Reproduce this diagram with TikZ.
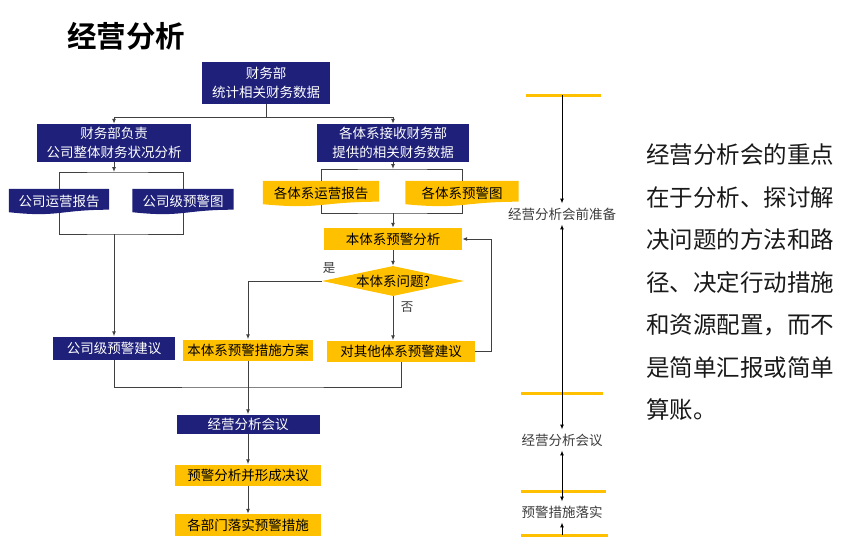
\documentclass[tikz,border=0pt]{standalone}
\usepackage{fontspec}
\setmainfont{Noto Sans CJK SC}[BoldFont={Noto Sans CJK SC Bold}]
\usetikzlibrary{arrows.meta,shapes.geometric,calc,backgrounds}
\definecolor{navy}{HTML}{1E2079}
\definecolor{gold}{HTML}{FFC000}
\definecolor{linegray}{HTML}{404040}
\definecolor{textgray}{HTML}{3C3C3C}

\begin{document}
\begin{tikzpicture}[x=1pt,y=-1pt,
        line/.style={draw=linegray,line width=1pt},
        arr/.style={line,-{Latex[length=5pt,width=4pt]}},
        dblarr/.style={line,{Latex[length=5pt,width=4pt]}-{Latex[length=5pt,width=4pt]}},
        box/.style={inner sep=0pt,font=\fontsize{13.5}{19.5}\selectfont,align=center},
        navybox/.style={box,fill=navy,text=white},
        goldbox/.style={box,fill=gold,text=black},
        doc/.style={box,minimum height=24pt},
        stage/.style={font=\fontsize{13.5}{16}\selectfont,text=textgray,inner xsep=1pt,inner ysep=4pt},
        bar/.style={draw=gold,line width=3pt},
        notetext/.style={font=\fontsize{23.5}{28}\selectfont,text=black!90,anchor=west,inner sep=0pt}]
        \useasboundingbox (0,0) rectangle (854,552);
        % Title
        \node[font=\fontsize{29.5}{31}\selectfont\bfseries,anchor=west,inner sep=0pt] (title) at (67,36) {经营分析};
        % Finance department
        \node[navybox,minimum width=128pt,minimum height=42pt] (fin) at (266,83) {财务部\\统计相关财务数据};
        \node[navybox,minimum width=154pt,minimum height=38pt] (lft) at (114,143) {财务部负责\\公司整体财务状况分析};
        \node[navybox,minimum width=152pt,minimum height=38pt] (rgt) at (393,143) {各体系接收财务部\\提供的相关财务数据};
        % Reports
        \node[doc,text=white,minimum width=100pt] (rep1) at (59,201) {公司运营报告};
        \node[doc,text=white,minimum width=101pt] (rep2) at (183,201) {公司级预警图};
        \node[doc,minimum width=116pt] (rep3) at (321,193) {各体系运营报告};
        \node[doc,minimum width=113pt] (rep4) at (462,193) {各体系预警图};
        \begin{scope}[on background layer]
            \foreach \n/\c in {rep1/navy,rep2/navy,rep3/gold,rep4/gold}
                \fill[\c] (\n.north west) -- (\n.north east) -- ($(\n.south east)+(0,-3.5)$)
                    .. controls ($(\n.south)+(0,-3.5)$) and ($(\n.south)+(0,4.5)$) .. ($(\n.south west)+(0,-1)$) -- cycle;
        \end{scope}
        % System analysis
        \node[goldbox,minimum width=138pt,minimum height=22pt] (ana) at (393,239) {本体系预警分析};
        \node[diamond,fill=gold,aspect=4.7,inner sep=0pt,minimum width=142pt,minimum height=30pt,
            font=\fontsize{13.5}{16}\selectfont] (dia) at (393,281) {本体系问题?};
        \node[font=\fontsize{12.5}{14}\selectfont,text=textgray] (yes) at (329,268) {是};
        \node[font=\fontsize{12.5}{14}\selectfont,text=textgray] (no) at (407,307) {否};
        % Suggestions
        \node[navybox,minimum width=122pt,minimum height=23pt] (kwj) at (114,348) {公司级预警建议};
        \node[goldbox,minimum width=130pt,minimum height=21pt] (plan) at (248,350) {本体系预警措施方案};
        \node[goldbox,minimum width=148pt,minimum height=21pt] (oth) at (401,351) {对其他体系预警建议};
        % Meeting
        \node[navybox,minimum width=143pt,minimum height=19pt] (meet) at (248,424) {经营分析会议};
        \node[goldbox,minimum width=146pt,minimum height=21pt] (dec) at (248,475) {预警分析并形成决议};
        \node[goldbox,minimum width=146pt,minimum height=22pt] (act) at (248,525) {各部门落实预警措施};
        % Junctions
        \coordinate (jl1) at (114,172);
        \coordinate (jl2) at (114,234);
        \coordinate (jr1) at (393,169);
        \coordinate (jr2) at (393,213);
        \coordinate (jm) at (248,387);
        % Connectors
        \draw[arr] (fin.south) -- ++(0,13) -| (lft.north);
        \draw[arr] (fin.south) -- ++(0,13) -| (rgt.north);
        \draw[arr] (lft.south) -- (jl1);
        \draw[line] (rep1.north) |- (jl1) -| (rep2.north);
        \draw[line] (rep1.south) |- (jl2) -| (rep2.south);
        \draw[arr] (jl2) -- (kwj.north);
        \draw[arr] (rgt.south) -- (jr1);
        \draw[line] (rep3.north) |- (jr1) -| (rep4.north);
        \draw[line] (rep3.south) |- (jr2) -| (rep4.south);
        \draw[arr] (jr2) -- (ana.north);
        \draw[arr] (ana.south) -- (dia.north);
        \draw[arr] (dia.west) -| (plan.north);
        \draw[arr] (dia.south) -- (dia.south |- oth.north);
        \draw[arr] (oth.east) -- ++(16,0) |- (ana.east);
        \draw[line] (kwj.south) |- (jm) -| (oth.south);
        \draw[arr] (plan.south) -- (meet.north);
        \draw[arr] (meet.south) -- (dec.north);
        \draw[arr] (dec.south) -- (act.north);
        % Time line
        \foreach \y/\a/\b in {95/526/601,393/521/603,491/521/606,535/521/608}
            \draw[bar] (\a,\y) -- (\b,\y);
        \node[stage] (st1) at (562,214) {经营分析会前准备};
        \node[stage] (st2) at (562,440) {经营分析会议};
        \node[stage] (st3) at (562,512) {预警措施落实};
        \coordinate (b1) at (562,95);
        \coordinate (b4) at (562,535);
        \draw[arr,draw=black] (b1) -- (st1.north);
        \draw[dblarr,draw=black] (st1.south) -- (st2.north);
        \draw[dblarr,draw=black] (st2.south) -- (st3.north);
        \draw[arr,draw=black] (b4) -- (st3.south);
        % Note
        \foreach \t [count=\i] in {经营分析会的重点,在于分析、探讨解,决问题的方法和路,径、决定行动措施,和资源配置，而不,是简单汇报或简单,算账。}
            \node[notetext] (note\i) at (646,{155+42.5*(\i-1)}) {\t};
    \end{tikzpicture}
\end{document}
